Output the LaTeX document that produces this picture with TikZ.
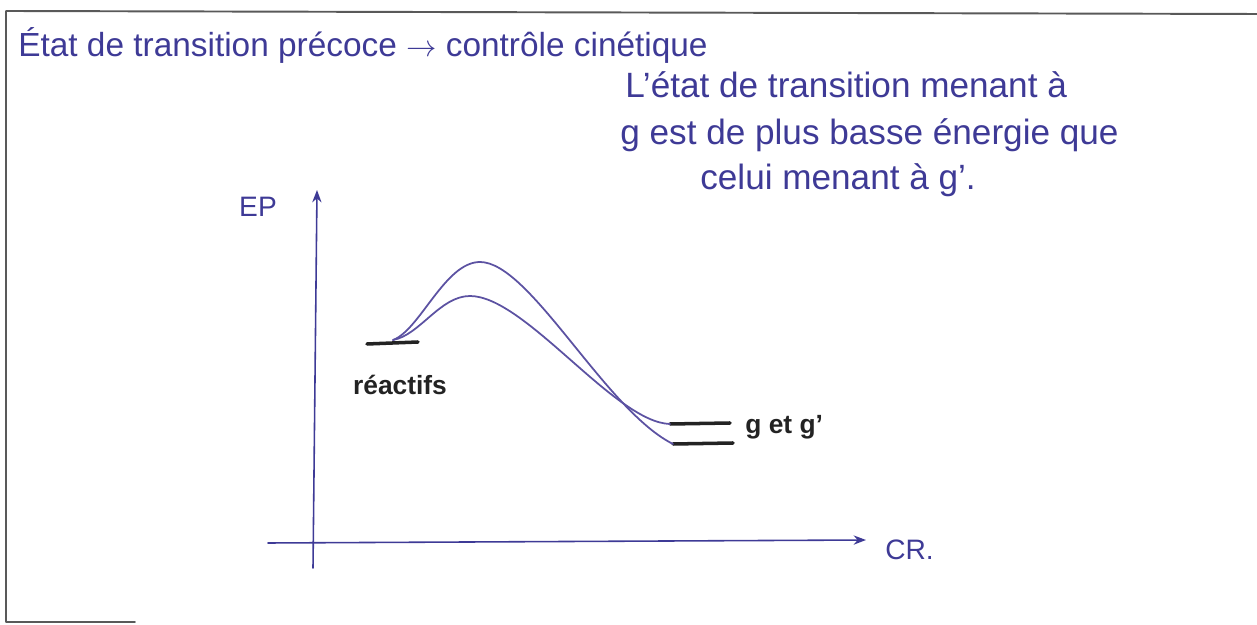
\documentclass[tikz,border=0pt]{standalone}
\usepackage{fontspec}
\setmainfont{Liberation Sans}
\usetikzlibrary{arrows.meta,positioning,calc}

\definecolor{ink}{RGB}{62,58,150}
\definecolor{curveink}{RGB}{92,82,162}
\definecolor{marker}{RGB}{35,35,35}

\begin{document}
\begin{tikzpicture}[
    line cap=round,
    line join=round,
    >=Stealth,
    frame/.style={draw=gray!70!black,line width=1.1pt},
    handtext/.style={text=ink,inner sep=0pt,anchor=west},
    axis/.style={->,line width=0.9pt,ink},
    path/.style={line width=1pt,curveink},
    level/.style={line width=2pt,marker},
    marklabel/.style={text=marker,inner sep=0pt,font=\fontsize{15}{15}\selectfont\bfseries}
]
\useasboundingbox (0,0) rectangle (25.14,12.5);

% sheet border
\coordinate (tl) at (0.12,12.28);
\coordinate (tr) at (25.14,12.22);
\coordinate (bl) at (0.12,0.06);
\coordinate (br) at (2.7,0.06);
\draw[frame] (tr) -- (tl) -- (bl) -- (br);

% title and comment
\node[handtext,font=\fontsize{19}{19}\selectfont] (title) at (0.36,11.6)
    {État de transition précoce $\rightarrow$ contrôle cinétique};
\node[handtext,font=\fontsize{20}{20}\selectfont] (note1) at (12.5,10.8)
    {L'état de transition menant à};
\node[handtext,font=\fontsize{20}{20}\selectfont] (note2) at (12.4,9.8)
    {g est de plus basse énergie que};
\node[handtext,font=\fontsize{20}{20}\selectfont] (note3) at (14.0,8.9)
    {celui menant à g'.};

% axes
\coordinate (ybot) at (6.26,1.14);
\coordinate (ytop) at (6.34,8.7);
\coordinate (xleft) at (5.36,1.64);
\coordinate (xright) at (17.32,1.7);
\draw[axis] (ybot) -- (ytop);
\draw[axis] (xleft) -- (xright);
\node[handtext,font=\fontsize{16}{16}\selectfont,anchor=center] (ep) at (5.16,8.36) {EP};
\node[handtext,font=\fontsize{16}{16}\selectfont] (cr) at (17.7,1.5) {CR.};

% levels
\draw[level] (7.34,5.62) coordinate (r1) -- (8.36,5.66) coordinate (r2);
\draw[level] (13.4,4.02) coordinate (g1) -- (14.6,4.04) coordinate (g2);
\draw[level] (13.46,3.62) coordinate (h1) -- (14.66,3.64) coordinate (h2);
\node[marklabel] (reac) at (8.0,4.8) {réactifs};
\node[marklabel,anchor=west] (prod) at (14.9,3.95) {g et g'};

% reaction paths
\coordinate (start) at (7.86,5.7);
\draw[path] (start) .. controls (8.4,5.9) and (8.9,7.26) .. (9.6,7.26)
    .. controls (10.6,7.26) and (12.1,4.3) .. (h1);
\draw[path] (start) .. controls (8.4,5.8) and (8.8,6.58) .. (9.4,6.58)
    .. controls (10.5,6.58) and (12.3,4.05) .. (g1);

\end{tikzpicture}
\end{document}
